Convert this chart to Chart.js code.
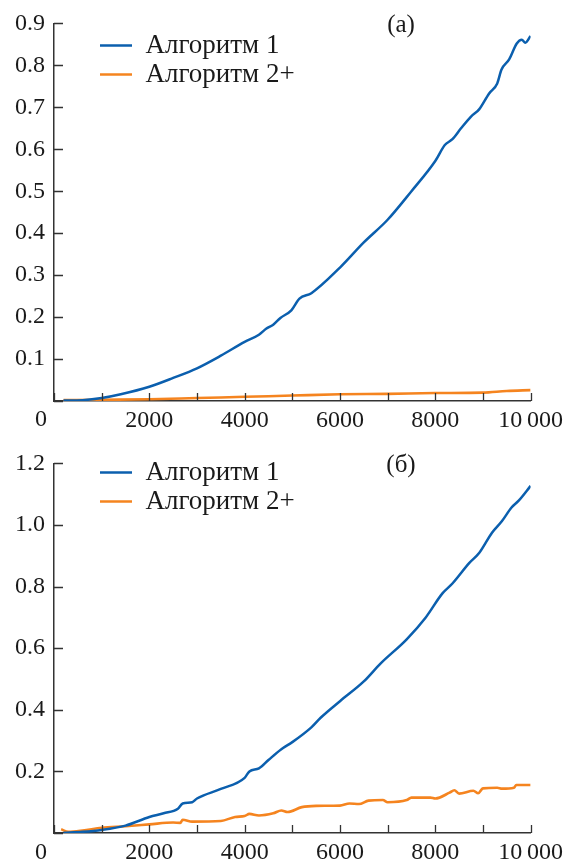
<!DOCTYPE html>
<html>
<head>
<meta charset="utf-8">
<script src="https://cdn.jsdelivr.net/npm/chart.js@4.4.1/dist/chart.umd.min.js"></script>
<style>
  html,body{margin:0;padding:0;background:#fff;}
  .box{position:absolute;left:0;width:568px;}
</style>
</head>
<body>
<div class="box" style="top:0;height:440px"><canvas id="chartA" width="568" height="440"></canvas></div>
<div class="box" style="top:440px;height:425px"><canvas id="chartB" width="568" height="425"></canvas></div>
<script>
// ==================== Data ====================
const seriesNames = ["Алгоритм 1", "Алгоритм 2+"];
const xTicks = [0, 1000, 2000, 3000, 4000, 5000, 6000, 7000, 8000, 9000, 10000];

// (а)
const a1X = [200, 600, 1000, 1400, 2000, 2500, 3000, 3500, 4000, 4300, 4450, 4600, 4750, 4980, 5150, 5400,
  6000, 6500, 7000, 7500, 8000, 8200, 8360, 8540, 8750, 8920, 9130, 9300, 9390, 9550, 9710, 9815, 9890, 10000];
const a1Y = [0.001, 0.002, 0.007, 0.016, 0.034, 0.055, 0.078, 0.108, 0.141, 0.158, 0.172, 0.182, 0.198, 0.216, 0.244, 0.257,
  0.318, 0.378, 0.432, 0.500, 0.572, 0.610, 0.624, 0.650, 0.678, 0.695, 0.733, 0.757, 0.790, 0.814, 0.852, 0.861, 0.854, 0.870];
const a2X = [200, 1000, 2000, 3000, 4000, 5000, 6000, 7000, 8000, 9000, 9500, 10000];
const a2Y = [0.002, 0.003, 0.004, 0.007, 0.010, 0.013, 0.016, 0.017, 0.019, 0.020, 0.024, 0.026];

// (б)
const b1X = [200, 600, 1000, 1500, 2000, 2300, 2600, 2700, 2900, 3000, 3500, 4000, 4100, 4300, 4500, 4770, 5000, 5400,
  5600, 6000, 6500, 6850, 7400, 7800, 8150, 8360, 8715, 8920, 9190, 9400, 9600, 9750, 10000];
const b1Y = [0.001, 0.004, 0.010, 0.024, 0.052, 0.064, 0.079, 0.096, 0.100, 0.112, 0.143, 0.179, 0.200, 0.210, 0.237, 0.272, 0.295, 0.343,
  0.375, 0.428, 0.492, 0.550, 0.629, 0.700, 0.778, 0.810, 0.877, 0.909, 0.975, 1.013, 1.057, 1.079, 1.127];
const b2X = [150, 300, 600, 1000, 1500, 2000, 2500, 2650, 2700, 2900, 3500, 3800, 4000, 4100, 4300, 4600, 4770, 4900,
  5200, 5500, 6000, 6200, 6400, 6600, 6900, 7000, 7400, 7500, 7900, 8000, 8300, 8400, 8500, 8800, 8900, 9000, 9300, 9400, 9650, 9700, 10000];
const b2Y = [0.012, 0.004, 0.008, 0.017, 0.022, 0.028, 0.034, 0.033, 0.043, 0.037, 0.039, 0.052, 0.055, 0.062, 0.057, 0.064, 0.073, 0.068,
  0.084, 0.088, 0.089, 0.096, 0.094, 0.105, 0.107, 0.100, 0.107, 0.115, 0.115, 0.112, 0.131, 0.139, 0.128, 0.137, 0.129, 0.145, 0.147, 0.144, 0.147, 0.156, 0.156];

// ==================== Style ====================
const BLUE = "#0b5fae", ORANGE = "#f5841f", INK = "#1a1a1a";
const FONT = "'Liberation Serif', 'Times New Roman', serif";

function pts(xs, ys){ return xs.map((x,i)=>({x:x, y:ys[i]})); }

// inward tick marks, the shifted "0" under the corner, and the panel letter
const axisDeco = {
  id: "axisDeco",
  afterLayout(chart, args, o){
    // legend in chartArea gets top=0 from layout, move it where the reference has it
    chart.legend.left += o.legendDx;
    chart.legend.top += o.legendDy;
  },
  afterDraw(chart, args, o){
    const ctx = chart.ctx, xs = chart.scales.x, ys = chart.scales.y, ca = chart.chartArea;
    ctx.save();
    ctx.strokeStyle = "#333"; ctx.lineWidth = 1.3;
    ctx.beginPath();
    xs.ticks.forEach(t=>{
      const px = Math.round(xs.getPixelForValue(t.value)) + 0.5;
      ctx.moveTo(px, ca.bottom); ctx.lineTo(px, ca.bottom - 8);
    });
    ys.ticks.forEach(t=>{
      const py = Math.round(ys.getPixelForValue(t.value)) + 0.5;
      ctx.moveTo(ca.left, py); ctx.lineTo(ca.left + 9, py);
    });
    ctx.stroke();
    ctx.fillStyle = INK;
    ctx.font = "24px " + FONT;
    ctx.textAlign = "center"; ctx.textBaseline = "middle";
    ctx.fillText("0", xs.getPixelForValue(0) - 13, ca.bottom + o.zeroDy);
    ctx.font = "25px " + FONT;
    ctx.fillText(o.letter, o.letterX, o.letterY);
    ctx.restore();
  }
};

function makeChart(id, s1, s2, yMax, yStep, pad, xHeight, deco){
  return new Chart(document.getElementById(id), {
    type: "line",
    data: {
      datasets: [
        { label: seriesNames[0], data: s1, borderColor: BLUE, backgroundColor: BLUE, borderWidth: 2.5,
          pointRadius: 0, cubicInterpolationMode: "monotone" },
        { label: seriesNames[1], data: s2, borderColor: ORANGE, backgroundColor: ORANGE, borderWidth: 2.6,
          pointRadius: 0, cubicInterpolationMode: "monotone" }
      ]
    },
    options: {
      responsive: false, animation: false,
      layout: { padding: pad },
      plugins: {
        tooltip: { enabled: false },
        legend: {
          position: "chartArea", align: "start",
          labels: { usePointStyle: true, pointStyle: "line", pointStyleWidth: 32, padding: 2,
                    color: INK, font: { family: FONT, size: 27 } }
        },
        axisDeco: deco
      },
      scales: {
        x: {
          type: "linear", min: 0, max: 10000,
          afterBuildTicks: s => { s.ticks = xTicks.map(v=>({value:v})); },
          afterFit: s => { s.height = xHeight; },
          grid: { display: false, drawTicks: false },
          border: { display: true, color: "#333", width: 1.5 },
          ticks: { autoSkip: false, maxRotation: 0, padding: 5, color: INK, font: { family: FONT, size: 24 },
                   callback: v => (v === 0 || v % 2000) ? "" : (v === 10000 ? "10\u2009000" : String(v)) }
        },
        y: {
          min: 0, max: yMax,
          afterFit: s => { s.width = 54; },
          grid: { display: false, drawTicks: false },
          border: { display: true, color: "#333", width: 1.5 },
          ticks: { stepSize: yStep, padding: 9, color: INK, font: { family: FONT, size: 24 },
                   callback: v => v === 0 ? "" : v.toFixed(1) }
        }
      }
    },
    plugins: [axisDeco]
  });
}

// ==================== Charts ====================
makeChart("chartA", pts(a1X, a1Y), pts(a2X, a2Y), 0.9, 0.1,
  { top: 22, right: 32, left: 0, bottom: 0 }, 39,
  { legendDx: 44, legendDy: 30, zeroDy: 19, letter: "(а)", letterX: 401, letterY: 25 });

makeChart("chartB", pts(b1X, b1Y), pts(b2X, b2Y), 1.2, 0.2,
  { top: 15, right: 32, left: 0, bottom: 0 }, 32,
  { legendDx: 44, legendDy: 17, zeroDy: 20, letter: "(б)", letterX: 401, letterY: 25 });
</script>
</body>
</html>
